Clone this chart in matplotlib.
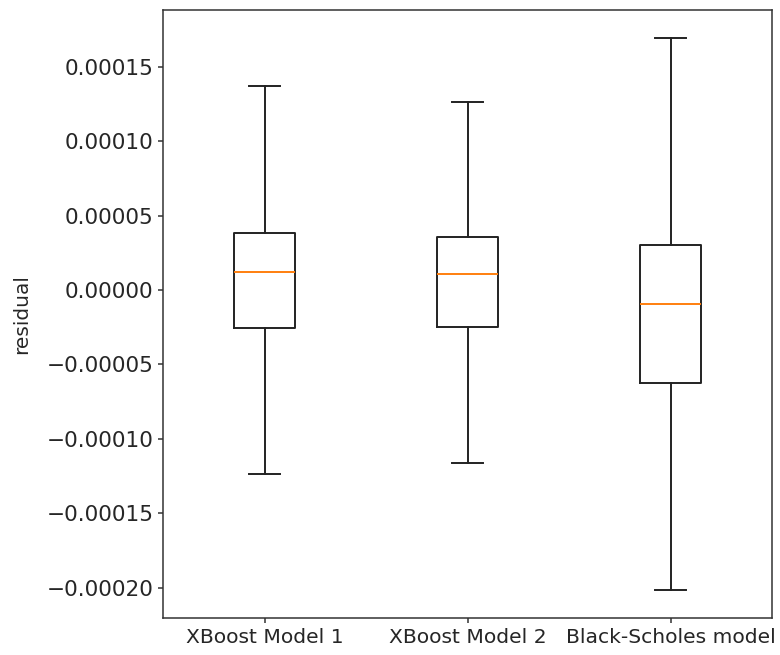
import matplotlib
matplotlib.use("Agg")
import matplotlib.pyplot as plt

plt.rcParams["axes.unicode_minus"] = True

labels = ["XBoost Model 1", "XBoost Model 2", "Black-Scholes model"]
whislo = [-12.36e-5, -11.64e-5, -20.17e-5]
q1 = [-2.56e-5, -2.45e-5, -6.26e-5]
med = [1.20e-5, 1.07e-5, -0.92e-5]
q3 = [3.83e-5, 3.59e-5, 3.03e-5]
whishi = [13.67e-5, 12.65e-5, 16.95e-5]

stats = [dict(label=l, whislo=a, q1=b, med=c, q3=d, whishi=e, fliers=[])
         for l, a, b, c, d, e in zip(labels, whislo, q1, med, q3, whishi)]

txt = "#262626"
lw = 1.4
fig = plt.figure(figsize=(7.8, 6.55), dpi=100)
ax = fig.add_axes([163/780, 37/655, (772-163)/780, (618-10)/655])
ax.bxp(stats, showfliers=False,
       boxprops=dict(linewidth=lw, color="#222222"),
       whiskerprops=dict(linewidth=lw, color="#222222"),
       capprops=dict(linewidth=lw, color="#222222"),
       medianprops=dict(linewidth=lw, color="#ff7f0e"))
ax.set_ylabel("residual", fontsize=14.5, color=txt)
ax.yaxis.set_label_coords(-0.216, 0.5)
ax.tick_params(axis="y", labelsize=15.6)
ax.tick_params(axis="x", labelsize=14.6)
ax.tick_params(labelcolor=txt, width=1.1, color="#333333")
for s in ax.spines.values():
    s.set_linewidth(1.1)
    s.set_color("#333333")
fig.savefig("out.png", dpi=100)
